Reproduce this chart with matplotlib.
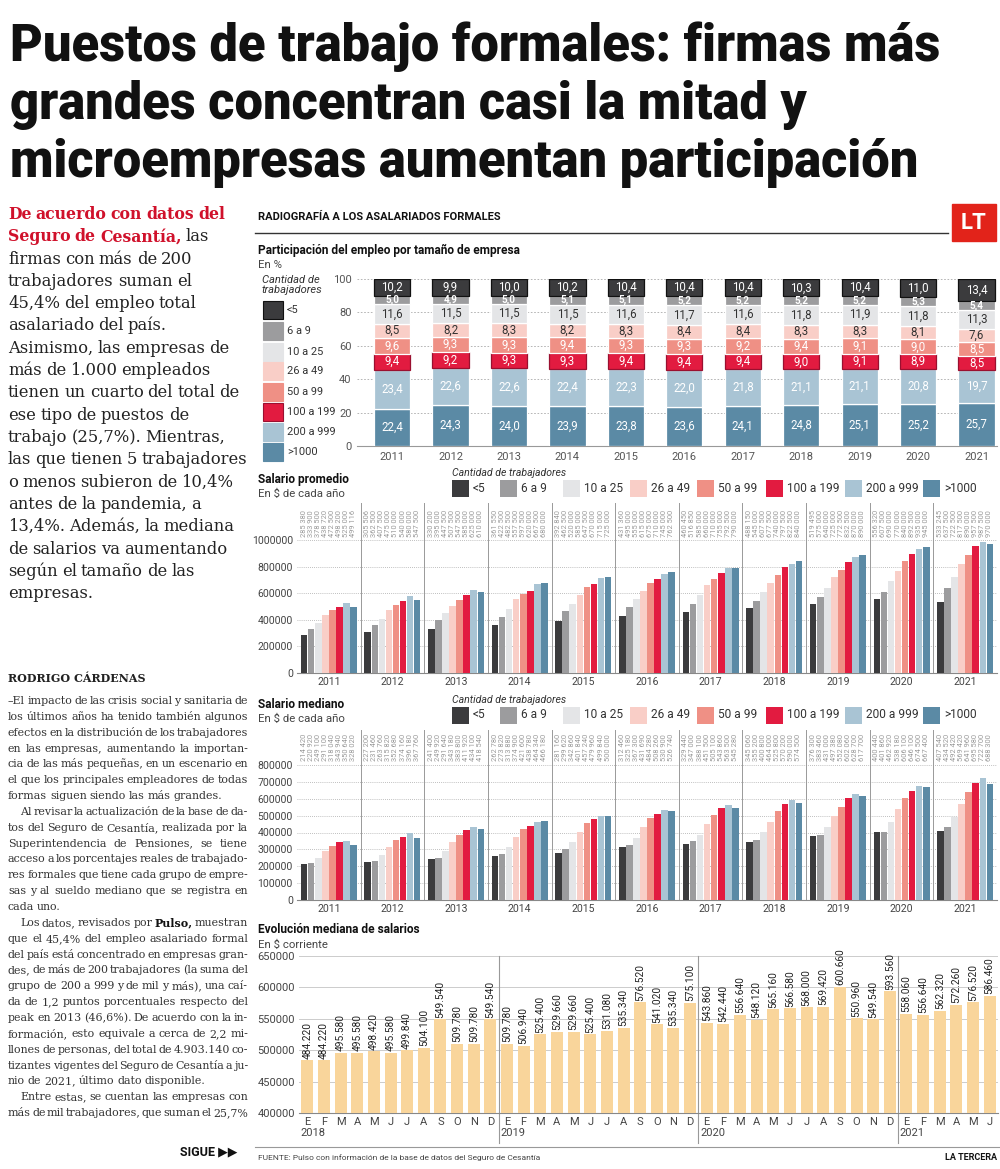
import matplotlib
matplotlib.use('Agg')
import matplotlib.pyplot as plt
from matplotlib.patches import Rectangle
from matplotlib.lines import Line2D
import numpy as np

# ---------------- DATA ----------------
years = ['2011', '2012', '2013', '2014', '2015', '2016', '2017', '2018', '2019', '2020', '2021']
categories = ['<5', '6 a 9', '10 a 25', '26 a 49', '50 a 99', '100 a 199', '200 a 999', '>1000']

# Participación del empleo (%)
share_lt5 = [10.2, 9.9, 10.0, 10.2, 10.4, 10.4, 10.4, 10.3, 10.4, 11.0, 13.4]
share_6a9 = [5.0, 4.9, 5.0, 5.1, 5.1, 5.2, 5.2, 5.2, 5.2, 5.3, 5.4]
share_10a25 = [11.6, 11.5, 11.5, 11.5, 11.6, 11.7, 11.6, 11.8, 11.9, 11.8, 11.3]
share_26a49 = [8.5, 8.2, 8.3, 8.2, 8.3, 8.4, 8.4, 8.3, 8.3, 8.1, 7.6]
share_50a99 = [9.6, 9.3, 9.3, 9.4, 9.3, 9.3, 9.2, 9.4, 9.1, 9.0, 8.5]
share_100a199 = [9.4, 9.2, 9.3, 9.3, 9.4, 9.4, 9.4, 9.0, 9.1, 8.9, 8.5]
share_200a999 = [23.4, 22.6, 22.6, 22.4, 22.3, 22.0, 21.8, 21.1, 21.1, 20.8, 19.7]
share_gt1000 = [22.4, 24.3, 24.0, 23.9, 23.8, 23.6, 24.1, 24.8, 25.1, 25.2, 25.7]

# Salario promedio ($ de cada año)
prom_lt5 = [285380, 305506, 330200, 361550, 392840, 431360, 460450, 488150, 519495, 556320, 533245]
prom_6a9 = [333900, 362500, 395000, 422500, 462500, 495000, 516850, 545000, 575000, 607500, 637500]
prom_10a25 = [378500, 407500, 447500, 482500, 520000, 555000, 585000, 607500, 640000, 690000, 722500]
prom_26a49 = [438720, 475000, 507500, 557500, 585000, 615000, 660000, 677500, 725000, 770000, 817500]
prom_50a99 = [472500, 510000, 547500, 597500, 647500, 675000, 710000, 740000, 772500, 840000, 890000]
prom_100a199 = [498200, 540000, 585000, 620000, 670000, 710000, 755000, 797500, 832500, 892500, 957500]
prom_200a999 = [525000, 580000, 625000, 667500, 715000, 745000, 792500, 822500, 870000, 935000, 987500]
prom_gt1000 = [499116, 547500, 610000, 680000, 725000, 762500, 790000, 840000, 890000, 945000, 970000]

# Salario mediano ($ de cada año)
med_lt5 = [214420, 227200, 241400, 262780, 281160, 312460, 329440, 345060, 376300, 400440, 407540]
med_6a9 = [220920, 231460, 249920, 273820, 299620, 325180, 347000, 355200, 383460, 401860, 434520]
med_10a25 = [249100, 263760, 291640, 313880, 342860, 367300, 388100, 400800, 431000, 462920, 492420]
med_26a49 = [291100, 315820, 343180, 374900, 401840, 431690, 451500, 464000, 497380, 538180, 569420]
med_50a99 = [318040, 352680, 383800, 421600, 457240, 484280, 505100, 525800, 552080, 606100, 641960]
med_100a199 = [343940, 374160, 411920, 438780, 479960, 508260, 543860, 570200, 602060, 646100, 695580]
med_200a999 = [350640, 396180, 434100, 464340, 499840, 530900, 563500, 590000, 628700, 674500, 722700]
med_gt1000 = [328020, 367760, 418540, 466180, 500000, 526740, 545280, 574500, 617700, 667400, 688300]

# Evolución mediana de salarios ($ corriente), E-2018 .. J-2021
months = ['E', 'F', 'M', 'A', 'M', 'J', 'J', 'A', 'S', 'O', 'N', 'D']
month_years = ['2018', '2019', '2020', '2021']
median_2018 = [484220, 484220, 495580, 495580, 498420, 495580, 499840, 504100, 549540, 509780, 509780, 549540]
median_2019 = [509780, 506940, 525400, 529660, 529660, 525400, 531080, 535340, 576520, 541020, 535340, 575100]
median_2020 = [543860, 542440, 556640, 548120, 565160, 566580, 568000, 569420, 600660, 550960, 549540, 593560]
median_2021 = [558060, 556640, 562320, 572260, 576520, 586460]

# ---------------- STYLE ----------------
colors = ['#3b3b3d', '#9c9c9e', '#e4e5e7', '#f9cec7', '#ef9085', '#e21b40', '#a9c4d4', '#5b8aa5']
seg_text = ['white', 'white', '#333333', '#333333', 'white', 'white', 'white', 'white']
seg_edge = ['#111111', 'white', 'white', 'white', 'white', '#9a1030', 'white', 'white']
SANS = ['Roboto', 'DejaVu Sans']
SERIF = ['DejaVu Serif']
plt.rcParams['font.family'] = SANS

W, H = 1000, 1169
fig = plt.figure(figsize=(W / 100, H / 100), dpi=100)
renderer = fig.canvas.get_renderer()


def ftext(x, y, s, **kw):
    return fig.text(x / W, 1 - y / H, s, **kw)


def axes_px(left, top, right, bottom):
    return fig.add_axes([left / W, 1 - bottom / H, (right - left) / W, (bottom - top) / H])


def width_of(s, **kw):
    t = fig.text(0, 0, s, **kw)
    w = t.get_window_extent(renderer).width
    t.remove()
    return w


def draw_words(line, x0, x1, y, justify, base_kw, alt_kw, space_scale=1.0):
    words = line.split()
    items = []
    for w in words:
        if w.startswith('*'):
            items.append((w[1:], alt_kw))
        else:
            items.append((w, base_kw))
    widths = [width_of(w, **kw) for w, kw in items]
    space = (width_of('a a', **base_kw) - width_of('aa', **base_kw)) * space_scale
    if justify and len(items) > 1:
        gap = (x1 - x0 - sum(widths)) / (len(items) - 1)
    else:
        gap = space
    x = x0
    for (w, kw), wd in zip(items, widths):
        ftext(x, y, w, va='baseline', ha='left', **kw)
        x += wd + gap


# ---------------- TITLE ----------------
title_lines = ["Puestos de trabajo formales: firmas más",
               "grandes concentran casi la mitad y",
               "microempresas aumentan participación"]
tkw = dict(family=SANS, weight='black', color='#111111')
t0 = ftext(10, 61, title_lines[0], fontsize=40, va='baseline', **tkw)
fs_title = 40 * 930 / t0.get_window_extent(renderer).width
t0.set_fontsize(fs_title)
ftext(10, 119, title_lines[1], fontsize=fs_title, va='baseline', **tkw)
ftext(10, 177, title_lines[2], fontsize=fs_title, va='baseline', **tkw)

# ---------------- LEFT COLUMN ----------------
lead_base = dict(family=SERIF, fontsize=11.8, color='#222222')
lead_alt = dict(family=SERIF, fontsize=11.3, color='#d0112b', weight='bold')
lead_lines = ["*De *acuerdo *con *datos *del",
              "*Seguro *de *Cesantía, las",
              "firmas con más de 200",
              "trabajadores suman el",
              "45,4% del empleo total",
              "asalariado del país.",
              "Asimismo, las empresas de",
              "más de 1.000 empleados",
              "tienen un cuarto del total de",
              "ese tipo de puestos de",
              "trabajo (25,7%). Mientras,",
              "las que tienen 5 trabajadores",
              "o menos subieron de 10,4%",
              "antes de la pandemia, a",
              "13,4%. Además, la mediana",
              "de salarios va aumentando",
              "según el tamaño de las",
              "empresas."]
for i, ln in enumerate(lead_lines):
    draw_words(ln, 8, 250, 219 + i * 22.3, False, lead_base, lead_alt, 0.8)

ftext(8, 682, 'RODRIGO CÁRDENAS', family=SERIF, fontsize=8.0, weight='bold',
      color='#222222', va='baseline')

body_base = dict(family=SERIF, fontsize=7.95, color='#333333')
body_alt = dict(family=SERIF, fontsize=7.95, color='#111111', weight='bold')
body = [("–El impacto de las crisis social y sanitaria de", True, 0),
        ("los últimos años ha tenido también algunos", True, 0),
        ("efectos en la distribución de los trabajadores", True, 0),
        ("en las empresas, aumentando la importan-", True, 0),
        ("cia de las más pequeñas, en un escenario en", True, 0),
        ("el que los principales empleadores de todas", True, 0),
        ("formas siguen siendo las más grandes.", False, 0),
        ("Al revisar la actualización de la base de da-", True, 12),
        ("tos del Seguro de Cesantía, realizada por la", True, 0),
        ("Superintendencia de Pensiones, se tiene", True, 0),
        ("acceso a los porcentajes reales de trabajado-", True, 0),
        ("res formales que tiene cada grupo de empre-", True, 0),
        ("sas y al sueldo mediano que se registra en", True, 0),
        ("cada uno.", False, 0),
        ("Los datos, revisados por *Pulso, muestran", True, 12),
        ("que el 45,4% del empleo asalariado formal", True, 0),
        ("del país está concentrado en empresas gran-", True, 0),
        ("des, de más de 200 trabajadores (la suma del", True, 0),
        ("grupo de 200 a 999 y de mil y más), una caí-", True, 0),
        ("da de 1,2 puntos porcentuales respecto del", True, 0),
        ("peak en 2013 (46,6%). De acuerdo con la in-", True, 0),
        ("formación, esto equivale a cerca de 2,2 mi-", True, 0),
        ("llones de personas, del total de 4.903.140 co-", True, 0),
        ("tizantes vigentes del Seguro de Cesantía a ju-", True, 0),
        ("nio de 2021, último dato disponible.", False, 0),
        ("Entre estas, se cuentan las empresas con", True, 12),
        ("más de mil trabajadores, que suman el 25,7%", True, 0)]
for i, (ln, just, ind) in enumerate(body):
    draw_words(ln, 8 + ind, 248, 704 + i * 15.85, just, body_base, body_alt, 0.8)

ftext(180, 1155, 'SIGUE ▶▶', family=['Roboto', 'DejaVu Sans'], fontsize=9,
      weight='bold', color='#111111', va='baseline')

# ---------------- RIGHT PANEL HEADER ----------------
ftext(258, 220, 'RADIOGRAFÍA A LOS ASALARIADOS FORMALES', fontsize=8, weight='bold',
      color='#111111', va='baseline')
fig.add_artist(Line2D([255 / W, 948 / W], [1 - 233 / H, 1 - 233 / H], color='#333333', lw=1))
fig.add_artist(Rectangle((952 / W, 1 - 241 / H), 44 / W, 37 / H, color='#e2231a',
                         transform=fig.transFigure))
ftext(974, 223, 'LT', fontsize=16, weight='bold', color='white', ha='center', va='center')

ftext(258, 254, 'Participación del empleo por tamaño de empresa', fontsize=8.6,
      weight='bold', color='#111111', va='baseline')
ftext(258, 268, 'En %', fontsize=8.2, color='#444444', va='baseline')

# legend for stacked chart
ftext(262, 285, 'Cantidad de\ntrabajadores', fontsize=8.0, style='italic',
      color='#333333', va='center', linespacing=1.05)
leg_y = [310, 331, 352, 371, 392, 412, 432, 452]
for k, (cat, col) in enumerate(zip(categories, colors)):
    y = leg_y[k]
    fig.add_artist(Rectangle((263 / W, 1 - (y + 9) / H), 20 / W, 18 / H, facecolor=col,
                             edgecolor=seg_edge[k] if k in (0, 5) else col, lw=0.8,
                             transform=fig.transFigure))
    ftext(287, y, cat, fontsize=7.9, color='#333333', va='center')

# ---------------- STACKED CHART ----------------
ax1 = axes_px(357, 279, 997, 446)
shares = [share_gt1000, share_200a999, share_100a199, share_50a99, share_26a49,
          share_10a25, share_6a9, share_lt5]
order = [7, 6, 5, 4, 3, 2, 1, 0]
x = np.arange(len(years))
bottom = np.zeros(len(years))
for s, k in zip(shares, order):
    vals = np.array(s)
    ax1.bar(x, vals, bottom=bottom, width=0.62, color=colors[k], edgecolor=seg_edge[k],
            linewidth=0.9, zorder=3)
    for xi, b, v in zip(x, bottom, vals):
        fsz = 7.2 if k == 1 else 8.3
        ax1.text(xi, b + v / 2, f"{v:.1f}".replace('.', ','), ha='center', va='center',
                 fontsize=fsz, color=seg_text[k], zorder=4,
                 weight='bold' if k == 1 else 'normal')
    bottom += vals
ax1.set_xlim(-0.6, 10.35)
ax1.set_ylim(0, 100)
ax1.set_yticks([0, 20, 40, 60, 80, 100])
ax1.set_xticks(x)
ax1.set_xticklabels(years)
ax1.tick_params(length=0, labelsize=8, colors='#555555', pad=4)
for sp in ['top', 'right', 'left']:
    ax1.spines[sp].set_visible(False)
ax1.spines['bottom'].set_color('#999999')
for t in [20, 40, 60, 80, 100]:
    ax1.axhline(t, color='#aaaaaa', lw=0.6, ls=(0, (2, 2)), zorder=1)


# ---------------- GROUPED CHARTS ----------------
def grouped(ax, series, ymax, ticks, label_base):
    n = len(years)
    xs0 = np.arange(n)
    step = 0.111
    for j, vals in enumerate(series):
        xs = xs0 + (j - 3.5) * step
        ax.bar(xs, vals, width=step * 0.93, color=colors[j], zorder=3)
        for xi, v in zip(xs, vals):
            ax.text(xi, label_base, f"{v:,}".replace(',', ' '), rotation=90, ha='center',
                    va='bottom', fontsize=5.4, color='#9a9a9a')
    ax.set_xlim(-0.5, n - 0.5)
    ax.set_ylim(0, ymax)
    ax.set_yticks(ticks)
    ax.set_yticklabels([str(t) for t in ticks])
    ax.set_xticks(xs0)
    ax.set_xticklabels(years)
    ax.tick_params(length=0, labelsize=7.6, colors='#444444', pad=3)
    for sp in ['top', 'right', 'left']:
        ax.spines[sp].set_visible(False)
    ax.spines['bottom'].set_color('#888888')
    for t in ticks[1:]:
        ax.axhline(t, color='#aaaaaa', lw=0.6, ls=(0, (1, 1.5)), zorder=1)
    for i in range(n - 1):
        ax.axvline(i + 0.5, color='#999999', lw=0.7, zorder=1)


def row_legend(y_title, y_sq):
    ftext(452, y_title, 'Cantidad de trabajadores', fontsize=7.6, style='italic',
          color='#333333', va='center')
    xs = [452, 500, 563, 630, 697, 766, 845, 923]
    for k, (cat, col) in enumerate(zip(categories, colors)):
        fig.add_artist(Rectangle((xs[k] / W, 1 - (y_sq + 8.5) / H), 17 / W, 17 / H,
                                 facecolor=col, edgecolor='none', transform=fig.transFigure))
        ftext(xs[k] + 21, y_sq, cat, fontsize=8.6, color='#333333', va='center')


ftext(258, 483, 'Salario promedio', fontsize=8.6, weight='bold', color='#111111', va='baseline')
ftext(258, 497, 'En $ de cada año', fontsize=8.2, color='#444444', va='baseline')
row_legend(473, 488)
ax2 = axes_px(297, 503, 997, 673)
grouped(ax2, [prom_lt5, prom_6a9, prom_10a25, prom_26a49, prom_50a99, prom_100a199,
              prom_200a999, prom_gt1000],
        (673 - 503) / 133 * 1e6, [0, 200000, 400000, 600000, 800000, 1000000], 1022000)

ftext(258, 708, 'Salario mediano', fontsize=8.6, weight='bold', color='#111111', va='baseline')
ftext(258, 722, 'En $ de cada año', fontsize=8.2, color='#444444', va='baseline')
row_legend(700, 715)
ax3 = axes_px(297, 730, 997, 900)
grouped(ax3, [med_lt5, med_6a9, med_10a25, med_26a49, med_50a99, med_100a199,
              med_200a999, med_gt1000],
        (900 - 730) / 135 * 8e5, [0, 100000, 200000, 300000, 400000, 500000, 600000,
                                   700000, 800000], 826000)

# ---------------- MONTHLY MEDIAN ----------------
ftext(258, 933, 'Evolución mediana de salarios', fontsize=8.6, weight='bold',
      color='#111111', va='baseline')
ftext(258, 948, 'En $ corriente', fontsize=8.2, color='#444444', va='baseline')
monthly = median_2018 + median_2019 + median_2020 + median_2021
ax4 = axes_px(299, 956, 998, 1113)
xm = np.arange(len(monthly))
ax4.bar(xm, monthly, width=0.72, color='#f9d59b', zorder=3)
for xi, v in zip(xm, monthly):
    ax4.text(xi, v + 2500, f"{v:,}".replace(',', '.'), rotation=90, ha='center',
             va='bottom', fontsize=7.3, color='#222222', clip_on=False, zorder=4)
ax4.set_xlim(-0.5, len(monthly) - 0.5)
ax4.set_ylim(400000, 650000)
ax4.set_yticks([400000, 450000, 500000, 550000, 600000, 650000])
ax4.set_xticks(xm)
ax4.set_xticklabels((months * 4)[:len(monthly)])
ax4.tick_params(length=0, labelsize=8, colors='#444444', pad=3)
for sp in ['top', 'right', 'left']:
    ax4.spines[sp].set_visible(False)
ax4.spines['bottom'].set_color('#888888')
for t in [450000, 500000, 550000, 600000, 650000]:
    ax4.axhline(t, color='#cccccc', lw=0.7, zorder=1)
trans = ax4.get_xaxis_transform()
for k, yr in enumerate(month_years):
    xpos = -0.5 if k == 0 else 12 * k - 0.5
    if k > 0:
        ax4.plot([xpos, xpos], [1, -0.19], transform=trans, color='#999999', lw=0.8,
                 clip_on=False, zorder=1)
    ax4.text(xpos + 0.1, -0.13, yr, transform=trans, ha='left', va='center', fontsize=8,
             color='#444444')

# ---------------- FOOTER ----------------
fig.add_artist(Line2D([255 / W, 1.0], [1 - 1147 / H, 1 - 1147 / H], color='#999999', lw=0.8))
ftext(258, 1160, 'FUENTE: Pulso con información de la base de datos del Seguro de Cesantía',
      fontsize=6, color='#444444', va='baseline')
ftext(997, 1160, 'LA TERCERA', fontsize=6.5, weight='bold', color='#111111', ha='right',
      va='baseline')

fig.savefig('out.png', dpi=100)
